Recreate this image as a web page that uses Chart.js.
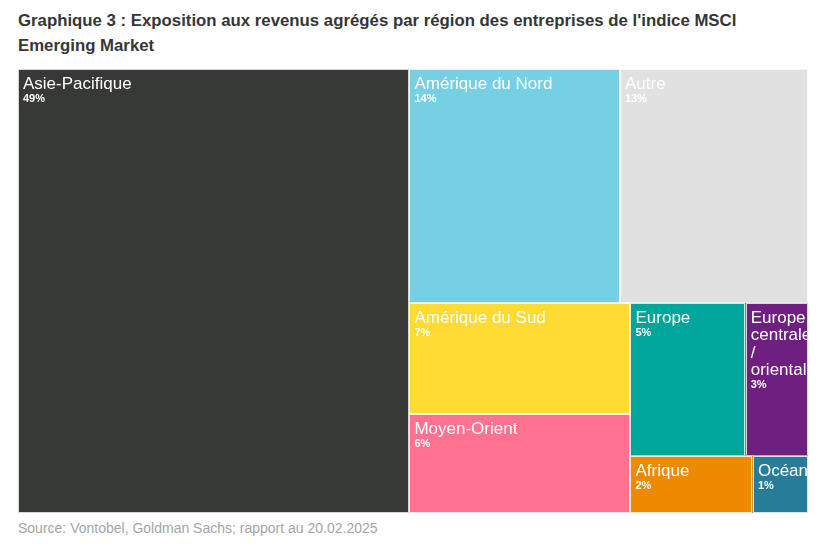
<!DOCTYPE html>
<html>
<head>
<meta charset="utf-8">
<script src="https://cdn.jsdelivr.net/npm/chart.js@4.4.1/dist/chart.umd.min.js"></script>
<style>
  body { margin: 0; background: #fff; font-family: "Liberation Sans", Arial, sans-serif; }
  #title { position: absolute; left: 18px; top: 8px; font-size: 16.8px; font-weight: bold; color: #363636; line-height: 25px; }
  #wrap { position: absolute; left: 18px; top: 69px; width: 790px; height: 444px; }
  #source { position: absolute; left: 18px; top: 520px; font-size: 14px; color: #a5a5a5; }
</style>
</head>
<body>
<div id="title">Graphique 3 : Exposition aux revenus agrégés par région des entreprises de l'indice MSCI<br>Emerging Market</div>
<div id="wrap"><canvas id="treemap"></canvas></div>
<div id="source">Source: Vontobel, Goldman Sachs; rapport au 20.02.2025</div>
<script>
const regions = ['Asie-Pacifique', 'Amérique du Nord', 'Autre', 'Amérique du Sud', 'Moyen-Orient',
                 'Europe', 'Europe centrale / orientale', 'Afrique', 'Océanie'];
const shares = [49.4, 14.0, 12.5, 7.0, 6.2, 5.0, 2.7, 2.0, 0.9];
const colors = ['#373936', '#76d0e3', '#e1e1e1', '#fedb33', '#ff7191',
                '#00a59a', '#6e1f80', '#ee8a00', '#277d97'];

// squarified layout, golden ratio (same idea as d3.treemapSquarify)
function squarify(values, x0, y0, x1, y1) {
  const ratio = (1 + Math.sqrt(5)) / 2;
  const n = values.length;
  const rects = [];
  let value = values.reduce((a, b) => a + b, 0);
  let i0 = 0, i1 = 0;
  while (i0 < n) {
    const dx = x1 - x0, dy = y1 - y0;
    let sum = values[i1++];
    let minV = sum, maxV = sum;
    const alpha = Math.max(dy / dx, dx / dy) / (value * ratio);
    let beta = sum * sum * alpha;
    let minRatio = Math.max(maxV / beta, beta / minV);
    for (; i1 < n; i1++) {
      const v = values[i1];
      sum += v;
      if (v < minV) minV = v;
      if (v > maxV) maxV = v;
      beta = sum * sum * alpha;
      const r = Math.max(maxV / beta, beta / minV);
      if (r > minRatio) { sum -= v; break; }
      minRatio = r;
    }
    if (dx < dy) {
      const yEnd = y0 + dy * sum / value;
      let x = x0;
      for (let i = i0; i < i1; i++) {
        const w = dx * values[i] / sum;
        rects[i] = { x0: x, y0: y0, x1: x + w, y1: yEnd };
        x += w;
      }
      y0 = yEnd;
    } else {
      const xEnd = x0 + dx * sum / value;
      let y = y0;
      for (let i = i0; i < i1; i++) {
        const h = dy * values[i] / sum;
        rects[i] = { x0: x0, y0: y, x1: xEnd, y1: y + h };
        y += h;
      }
      x0 = xEnd;
    }
    value -= sum;
    i0 = i1;
  }
  return rects;
}

function wrapWords(ctx, text, maxWidth) {
  const words = text.split(' ');
  const lines = [];
  let line = '';
  words.forEach(w => {
    const test = line ? line + ' ' + w : w;
    if (line && ctx.measureText(test).width > maxWidth) {
      lines.push(line);
      line = w;
    } else {
      line = test;
    }
  });
  if (line) lines.push(line);
  return lines;
}

const treemapCells = {
  id: 'treemapCells',
  afterDatasetsDraw(chart) {
    const { ctx, scales: { x, y } } = chart;
    const ds = chart.data.datasets[0];
    const rects = squarify(ds.tree, x.min, y.min, x.max, y.max);
    rects.forEach((r, i) => {
      const left = x.getPixelForValue(r.x0);
      const right = x.getPixelForValue(r.x1);
      const top = y.getPixelForValue(r.y0);
      const bottom = y.getPixelForValue(r.y1);
      const w = right - left, h = bottom - top;

      ctx.save();
      ctx.fillStyle = ds.colors[i];
      ctx.fillRect(left, top, w, h);
      ctx.strokeStyle = 'rgba(255,255,255,0.8)';
      ctx.lineWidth = 1;
      ctx.strokeRect(Math.round(left) + 0.5, Math.round(top) + 0.5, Math.round(w) - 1, Math.round(h) - 1);

      ctx.beginPath();
      ctx.rect(left, top, w - 1, h - 1);
      ctx.clip();
      ctx.fillStyle = '#fff';
      ctx.textBaseline = 'alphabetic';
      ctx.font = '17px "Liberation Sans", Arial, sans-serif';
      const lines = wrapWords(ctx, chart.data.labels[i], w - 8);
      let base = top + 20;
      lines.forEach((ln, k) => {
        ctx.fillText(ln, left + 5, base);
        if (k < lines.length - 1) base += 17.5;
      });
      ctx.font = 'bold 11px "Liberation Sans", Arial, sans-serif';
      ctx.fillText(Math.round(ds.tree[i]) + '%', left + 5, base + 13);
      ctx.restore();
    });
  }
};

new Chart(document.getElementById('treemap'), {
  type: 'scatter',
  data: {
    labels: regions,
    datasets: [{ data: [], tree: shares, colors: colors }]
  },
  options: {
    responsive: true,
    maintainAspectRatio: false,
    animation: false,
    layout: { padding: 0 },
    scales: {
      x: { type: 'linear', min: 0, max: 790, display: false },
      y: { type: 'linear', min: 0, max: 444, reverse: true, display: false }
    },
    plugins: { legend: { display: false }, tooltip: { enabled: false } }
  },
  plugins: [treemapCells]
});
</script>
</body>
</html>
